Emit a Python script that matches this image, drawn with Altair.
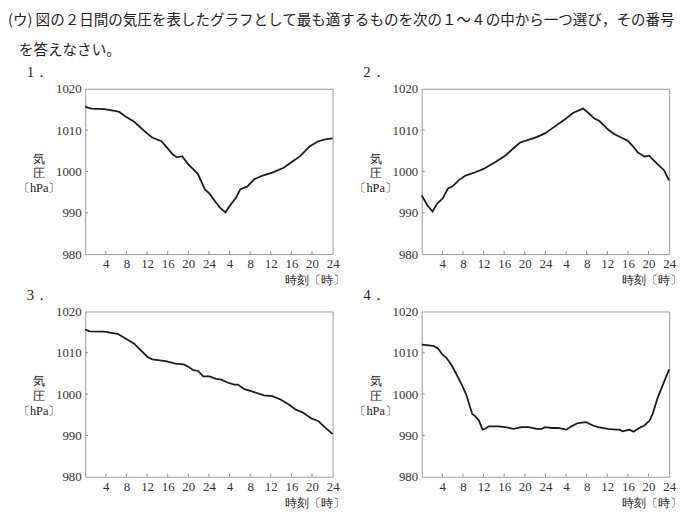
import altair as alt
import pandas as pd

# ---- data ----
hours1 = [0, 1.2, 3.7, 6, 6.6, 7.9, 9.5, 12, 13, 14.8, 15.5, 17, 17.8, 18.8, 20, 21, 21.9, 23.2, 24.2, 25.1,
          26.1, 27.2, 28.3, 29.3, 30.1, 31.4, 32.8, 34.4, 36.3, 38.5, 40.4, 41.7, 43.6, 45.2, 46.8, 48]
press1 = [1015.6, 1015.2, 1015.1, 1014.6, 1014.4, 1013.2, 1012.0, 1009.2, 1008.2, 1007.3, 1006.3, 1004.1,
          1003.4, 1003.7, 1001.7, 1000.5, 999.3, 995.7, 994.5, 992.9, 991.3, 990.1, 992.1, 993.7, 995.7,
          996.3, 998.1, 999.0, 999.7, 1000.9, 1002.6, 1003.7, 1006.1, 1007.3, 1007.8, 1008.0]

hours2 = [0, 1.1, 2.1, 3, 4.1, 5.1, 6, 7.2, 8.5, 10.4, 12, 14.3, 16.2, 17.8, 19.1, 20.4, 22.3, 23.9, 25.5,
          27.8, 29.4, 31.3, 32.3, 33.5, 34.5, 36.1, 37.4, 38.7, 40, 40.9, 41.9, 43.2, 44.1, 45.4, 47, 48]
press2 = [994.2, 991.8, 990.3, 992.2, 993.5, 995.9, 996.4, 997.9, 999.0, 999.8, 1000.6, 1002.3, 1003.8,
          1005.6, 1007.0, 1007.5, 1008.3, 1009.2, 1010.6, 1012.6, 1014.2, 1015.2, 1014.2, 1012.8, 1012.2,
          1010.2, 1009.0, 1008.2, 1007.4, 1006.2, 1004.6, 1003.6, 1003.8, 1002.2, 1000.3, 997.8]

hours3 = [0, 0.9, 3.8, 5, 6.3, 7.9, 9.5, 10.8, 12.1, 13, 15.6, 17.5, 19.1, 20, 21, 21.9, 22.9, 24.1, 25.4,
          26.4, 27.6, 28.9, 29.6, 30.9, 32.2, 34.7, 36.3, 37.9, 39.5, 40.8, 42.3, 43.9, 45.2, 46.2, 48]
press3 = [1015.6, 1015.2, 1015.1, 1014.8, 1014.6, 1013.4, 1012.2, 1010.6, 1009.0, 1008.4, 1008.0, 1007.4,
          1007.2, 1006.6, 1005.8, 1005.6, 1004.3, 1004.3, 1003.7, 1003.5, 1002.8, 1002.3, 1002.3, 1001.2,
          1000.7, 999.7, 999.5, 998.7, 997.5, 996.3, 995.5, 994.1, 993.5, 992.3, 990.3]

hours4 = [0, 1.4, 2.4, 3.2, 4, 4.8, 5.9, 6.9, 7.8, 8.6, 9.8, 10.4, 11.1, 11.8, 12.3, 13, 14.9, 16.2, 17.8,
          19.4, 20.7, 22.3, 23.3, 23.9, 25.2, 26.5, 28.1, 29, 30.3, 31.9, 33.2, 34.2, 36.1, 37.7, 38.4, 39,
          39.7, 40.3, 41.1, 42.2, 43.2, 44.2, 44.8, 45.8, 46.7, 48]
press4 = [1012.0, 1011.8, 1011.6, 1011.0, 1009.6, 1008.8, 1006.8, 1004.4, 1002.2, 1000.0, 995.2, 994.6,
          993.6, 991.4, 991.6, 992.2, 992.2, 992.0, 991.6, 992.0, 992.0, 991.6, 991.6, 992.0, 991.8, 991.8,
          991.4, 992.2, 993.0, 993.2, 992.4, 992.0, 991.6, 991.4, 991.4, 991.0, 991.2, 991.4, 990.9, 991.8,
          992.4, 993.6, 995.2, 999.2, 1002.0, 1006.0]

x_tick_values = [4, 8, 12, 16, 20, 24, 28, 32, 36, 40, 44, 48]
y_tick_values = [980, 990, 1000, 1010, 1020]
inner_x_ticks = [4, 8, 12, 16, 20, 24, 28, 32, 36, 40, 44]
inner_y_ticks = [990, 1000, 1010]

panel_labels = ["1．", "2．", "3．", "4．"]
y_title = ["気", "圧", "〔hPa〕"]
x_title = "時刻〔時〕"
question = ["(ウ) 図の２日間の気圧を表したグラフとして最も適するものを次の１～４の中から一つ選び，その番号",
            "\u2800を答えなさい。"]

# ---- styling ----
W, H = 250, 167
SERIF = "Liberation Serif"
CJK = "Noto Sans CJK JP"

xscale = alt.Scale(domain=[0, 48], nice=False, zero=False)
yscale = alt.Scale(domain=[980, 1020], nice=False, zero=False)

x_axis = alt.Axis(values=x_tick_values, format="d",
                  labelExpr="datum.value > 24 ? datum.value - 24 : datum.value",
                  title=x_title, titleFont=SERIF, titleFontSize=12.5, titleFontWeight="normal",
                  titleColor="#222", titleAlign="right", titleBaseline="middle",
                  titleX=262, titleY=26,
                  labelFont=SERIF, labelFontSize=13, labelColor="#333", labelPadding=4,
                  labelFlush=False, labelOverlap=False, labelBound=False,
                  ticks=False, domain=False, grid=False)
y_axis = alt.Axis(values=y_tick_values, format="d", title=y_title, titleFont=SERIF,
                  titleFontSize=12.5, titleFontWeight="normal", titleColor="#222", titleAngle=0,
                  titleAlign="center", titleBaseline="top", titleX=-47, titleY=64,
                  titleLineHeight=15,
                  labelFont=SERIF, labelFontSize=13, labelColor="#333", labelPadding=4,
                  labelOverlap=False, labelBound=False, labelFlush=False,
                  ticks=False, domain=False, grid=False)


def panel(hours, values, label):
    df = pd.DataFrame({"h": hours, "p": values})
    line = alt.Chart(df).mark_line(color="#1c1c1c", strokeWidth=1.8).encode(
        x=alt.X("h:Q", scale=xscale, axis=x_axis),
        y=alt.Y("p:Q", scale=yscale, axis=y_axis),
    )
    xt = alt.Chart(pd.DataFrame({"h": inner_x_ticks})).mark_rule(color="#888", strokeWidth=1).encode(
        x=alt.X("h:Q", scale=xscale, axis=x_axis), y=alt.value(H), y2=alt.value(H - 3))
    yt = alt.Chart(pd.DataFrame({"p": inner_y_ticks})).mark_rule(color="#888", strokeWidth=1).encode(
        y=alt.Y("p:Q", scale=yscale, axis=y_axis), x=alt.value(0), x2=alt.value(3))
    return alt.layer(line, xt, yt).properties(
        width=W, height=H,
        title=alt.TitleParams(label, anchor="start", frame="group", font=SERIF, fontSize=15,
                              fontWeight="normal", color="#222", offset=3, dx=-59),
    )


panels = [panel(hours1, press1, panel_labels[0]),
          panel(hours2, press2, panel_labels[1]),
          panel(hours3, press3, panel_labels[2]),
          panel(hours4, press4, panel_labels[3])]

chart = alt.concat(*panels, columns=2, spacing={"row": 58, "column": 90}, bounds="flush").properties(
    title=alt.TitleParams(question, anchor="start", frame="group", font=CJK, fontSize=14.7,
                          fontWeight="normal", color="#222", lineHeight=30, offset=7, dx=-78),
    padding={"left": 0, "top": 2, "right": 0, "bottom": 0},
    background="white",
).configure_view(stroke="#9a9a9a", strokeWidth=1)

chart.save("out.html", embed_options={"renderer": "svg", "actions": False})
